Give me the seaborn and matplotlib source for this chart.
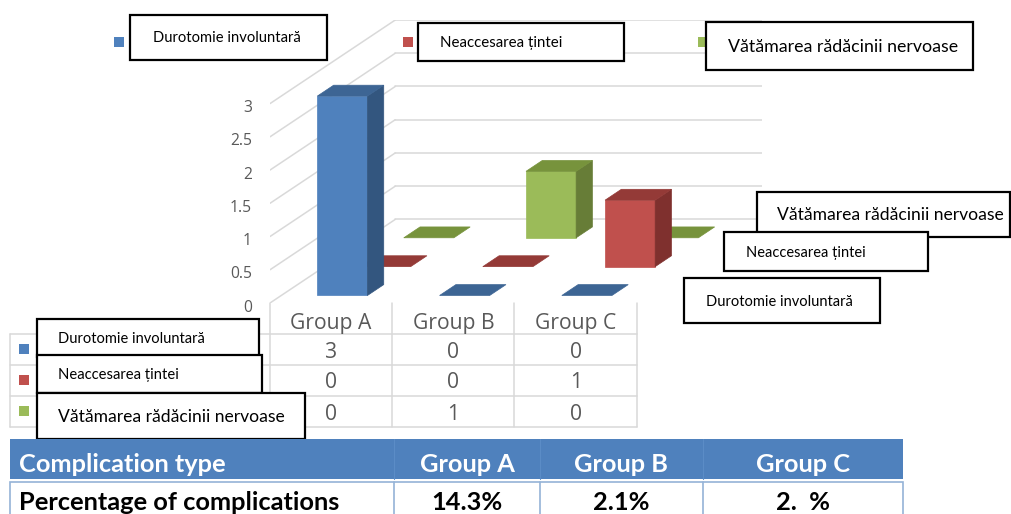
import matplotlib
matplotlib.use("Agg")
import matplotlib.pyplot as plt
from matplotlib.patches import Polygon, Rectangle
from matplotlib.transforms import Affine2D, blended_transform_factory
import seaborn as sns

# ---- data -------------------------------------------------------------
categories = ["Group A", "Group B", "Group C"]
series_names = ["Durotomie involuntară", "Neaccesarea țintei", "Vătămarea rădăcinii nervoase"]
durotomie = [3, 0, 0]
neaccesarea = [0, 0, 1]
vatamarea = [0, 1, 0]
value_ticks = [0, 0.5, 1, 1.5, 2, 2.5, 3]
table_header = ["Complication type", "Group A", "Group B", "Group C"]
table_row_label = "Percentage of complications"
complication_pct = ["14.3%", "2.1%", "2.  %"]

series_values = [durotomie, neaccesarea, vatamarea]

# ---- style ------------------------------------------------------------
sns.set_theme(style="white")
plt.rcParams["font.family"] = ["Lato", "DejaVu Sans"]
front_cols = sns.color_palette(["#4F81BD", "#C0504D", "#9BBB59"])
side_cols = sns.color_palette(["#33567F", "#7F302E", "#677D37"])
top_cols = sns.color_palette(["#3D6594", "#943A37", "#77933C"])
GRID = "#D9D9D9"
LABEL = "#595959"

W, H = 1012, 514
fig = plt.figure(figsize=(W / 100, H / 100), dpi=100)
fig.patch.set_facecolor("white")
renderer = fig.canvas.get_renderer()

# pixel coordinates measured from the top-left corner of the figure
pxT = Affine2D().scale(1 / W, -1 / H).translate(0, 1) + fig.transFigure

# oblique 3-D projection: depth d in [0, 1] shifts right and up
DEPTH_X = 1.0246
DEPTH_Y = 1.2576
ZMAX = 3.0

ax = fig.add_axes([270 / W, 1 - 303 / H, 492 / W, 283 / H])
ax.set_xlim(0, len(categories) + DEPTH_X)
ax.set_ylim(0, ZMAX + DEPTH_Y)
ax.axis("off")


def proj(x, z, d):
    return (x + d * DEPTH_X, z + d * DEPTH_Y)


def fitted(x, y, s, width, trans, size0=12, artist=None, **kw):
    host = artist if artist is not None else fig
    t = host.text(x, y, s, transform=trans, fontsize=size0, **kw)
    w = t.get_window_extent(renderer).width
    t.set_fontsize(size0 * width / w)
    return t


# ---- walls ------------------------------------------------------------
n_cat = len(categories)
for v in value_ticks:
    ax.plot(*zip(proj(0, v, 1), proj(n_cat, v, 1)), color=GRID, lw=1.1, zorder=1)
    ax.plot(*zip(proj(0, v, 0), proj(0, v, 1)), color=GRID, lw=1.1, zorder=1)

# value-axis labels, nudged so the digits sit centred on their gridline
TICK_NUDGE = 0.07
tick_size = None
for v in value_ticks:
    t = fitted(-0.148, v - TICK_NUDGE, f"{v:g}", 22 if v == 2.5 else 1, ax.transData, artist=ax,
               ha="right", va="center", color=LABEL, family=["Open Sans", "DejaVu Sans"])
    if v == 2.5:
        tick_size = t.get_fontsize()
for t in ax.texts:
    t.set_fontsize(tick_size)

# ---- bars -------------------------------------------------------------
ROW_D0 = 0.09
ROW_STEP = 0.345
BAR_DEPTH = 0.13
HALF_W = 0.205

for s in reversed(range(len(series_values))):
    d0 = ROW_D0 + s * ROW_STEP
    d1 = d0 + BAR_DEPTH
    for c, v in enumerate(series_values[s]):
        x0, x1 = c + 0.5 - HALF_W, c + 0.5 + HALF_W
        if v > 0:
            front = [proj(x0, 0, d0), proj(x1, 0, d0), proj(x1, v, d0), proj(x0, v, d0)]
            side = [proj(x1, 0, d0), proj(x1, 0, d1), proj(x1, v, d1), proj(x1, v, d0)]
            ax.add_patch(Polygon(front, closed=True, fc=front_cols[s], ec=front_cols[s], lw=0.5, zorder=3))
            ax.add_patch(Polygon(side, closed=True, fc=side_cols[s], ec=side_cols[s], lw=0.5, zorder=3))
        top = [proj(x0, v, d0), proj(x1, v, d0), proj(x1, v, d1), proj(x0, v, d1)]
        ax.add_patch(Polygon(top, closed=True, fc=top_cols[s], ec=top_cols[s], lw=0.5, zorder=3))

# ---- data table under the chart ----------------------------------------
tblT = blended_transform_factory(ax.transData, pxT)
x_left = ax.transData.inverted().transform((10, 0))[0]
for c in range(n_cat + 1):
    ax.plot([c, c], [303, 427], color=GRID, lw=1.1, transform=tblT, clip_on=False)
for y in [334, 365, 396, 427]:
    ax.plot([x_left, n_cat], [y, y], color=GRID, lw=1.1, transform=tblT, clip_on=False)
ax.plot([x_left, x_left], [334, 427], color=GRID, lw=1.1, transform=tblT, clip_on=False)

hdr = fitted(0.5, 323, categories[0], 81, tblT, artist=ax, ha="center", va="center",
             color=LABEL, family=["Open Sans", "DejaVu Sans"])
cell_size = hdr.get_fontsize()
for c in range(1, n_cat):
    ax.text(c + 0.5, 323, categories[c], transform=tblT, ha="center", va="center",
            color=LABEL, fontsize=cell_size, family=["Open Sans", "DejaVu Sans"])
for s, row_y in enumerate([350, 381, 412]):
    for c, v in enumerate(series_values[s]):
        ax.text(c + 0.5, row_y + 2, f"{v:g}", transform=tblT, ha="center", va="center",
                color=LABEL, fontsize=cell_size, family=["Open Sans", "DejaVu Sans"])
    fig.add_artist(Rectangle((19, row_y - 6), 10, 10, transform=pxT, fc=front_cols[s], ec="none"))

# ---- legend keys at the top ---------------------------------------------
for s, kx in enumerate([114, 403, 698]):
    fig.add_artist(Rectangle((kx, 37), 10, 10, transform=pxT, fc=front_cols[s], ec="none", zorder=4))

# ---- captioned boxes ------------------------------------------------------
# (left, top, right, bottom, text x, text width, series index)
boxes = [
    (130, 15, 327, 60, 153, 147, 0),
    (418, 23, 624, 61, 440, 122, 1),
    (706, 22, 973, 70, 728, 228, 2),
    (757, 192, 1010, 237, 777, 225, 2),
    (724, 232, 928, 271, 746, 119, 1),
    (684, 278, 880, 323, 706, 146, 0),
    (37, 319, 259, 357, 58, 146, 0),
    (37, 355, 262, 393, 58, 120, 1),
    (37, 393, 305, 439, 58, 225, 2),
]
for i, (l, t, r, b, tx, tw, s) in enumerate(boxes):
    z = 10 + i
    fig.add_artist(Rectangle((l, t), r - l, b - t, transform=pxT, fc="white", ec="black",
                             lw=1.6, zorder=z))
    txt = fitted(tx, (t + b) / 2 + 1, series_names[s], tw, pxT, ha="left", va="center",
                 color="black")
    txt.set_zorder(z + 0.5)

# ---- summary table ----------------------------------------------------------
TBL_BLUE = "#4F81BD"
TBL_LINE = "#95B3D7"
fig.add_artist(Rectangle((10, 439), 893, 40, transform=pxT, fc=TBL_BLUE, ec="none", zorder=20))
fig.add_artist(Rectangle((10, 482), 893, 40, transform=pxT, fc="white", ec=TBL_LINE, lw=1.2, zorder=20))
col_edges = [10, 394, 540, 703, 903]
for xe in col_edges[1:-1]:
    fig.add_artist(plt.Line2D([xe, xe], [482, 520], transform=pxT, color=TBL_LINE, lw=1.2, zorder=21))
    fig.add_artist(plt.Line2D([xe, xe], [439, 479], transform=pxT, color="#5B8CC6", lw=0.8, zorder=21))

t = fitted(19, 465, table_header[0], 205, pxT, ha="left", va="center", color="white",
           weight="bold")
t.set_zorder(22)
hsize = t.get_fontsize()
for k in range(1, 4):
    cx = (col_edges[k] + col_edges[k + 1]) / 2
    fig.text(cx, 465, table_header[k], transform=pxT, ha="center", va="center", color="white",
             weight="bold", fontsize=hsize, zorder=22)

t = fitted(19, 502, table_row_label, 319, pxT, ha="left", va="center", color="black",
           weight="bold")
t.set_zorder(22)
rsize = t.get_fontsize()
for k, pct in enumerate(complication_pct):
    cx = (col_edges[k + 1] + col_edges[k + 2]) / 2
    fig.text(cx, 502, pct, transform=pxT, ha="center", va="center", color="black",
             weight="bold", fontsize=rsize, zorder=22)

fig.savefig("out.png", dpi=100, facecolor="white")
